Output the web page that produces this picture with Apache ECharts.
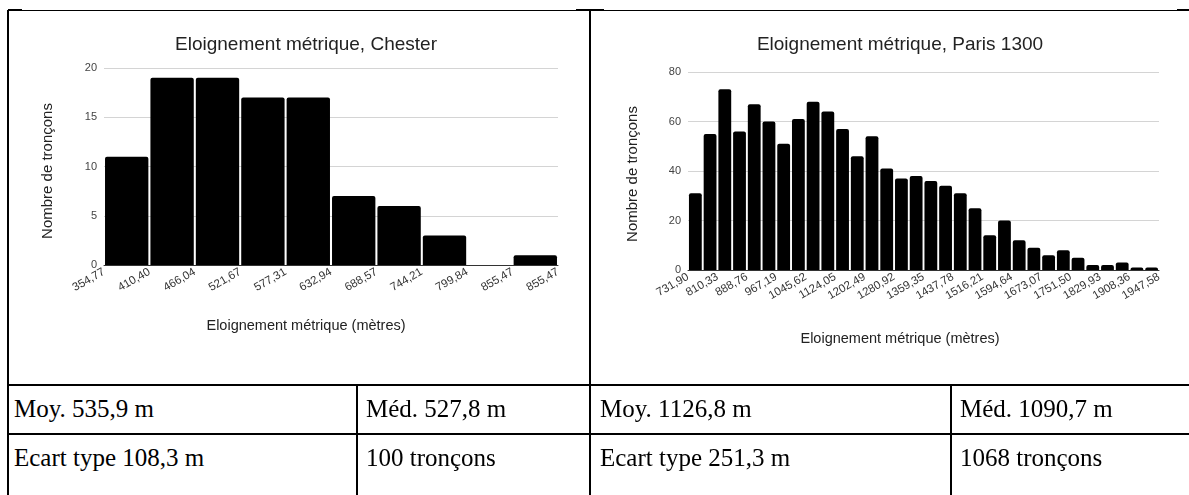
<!DOCTYPE html>
<html>
<head>
<meta charset="utf-8">
<script src="https://cdn.jsdelivr.net/npm/echarts@6/dist/echarts.min.js"></script>
<style>
  html, body { margin: 0; padding: 0; background: #fff; }
  #page { position: relative; width: 1189px; height: 495px; overflow: hidden; background: #fff; }
  #chart { position: absolute; left: 0; top: 0; width: 1189px; height: 385px; }
  .ln { position: absolute; background: #000; }
  .cell { position: absolute; font-family: "Liberation Serif", serif; font-size: 25px; color: #000; white-space: nowrap; line-height: 1; }
</style>
</head>
<body>
<div id="page">
  <div id="chart"></div>
  <!-- table borders -->
  <div class="ln" style="left:8px; top:10px; width:1181px; height:1px;"></div>
  <div class="ln" style="left:8px; top:9px; width:14px; height:2px;"></div>
  <div class="ln" style="left:576px; top:9px; width:28px; height:2px;"></div>
  <div class="ln" style="left:1177px; top:9px; width:12px; height:2px;"></div>
  <div class="ln" style="left:7px; top:10px; width:2px; height:485px;"></div>
  <div class="ln" style="left:589px; top:10px; width:2px; height:485px;"></div>
  <div class="ln" style="left:356px; top:385px; width:2px; height:110px;"></div>
  <div class="ln" style="left:950px; top:385px; width:2px; height:110px;"></div>
  <div class="ln" style="left:8px; top:384px; width:1181px; height:2px;"></div>
  <div class="ln" style="left:8px; top:433px; width:1181px; height:2px;"></div>
  <div id="cells"></div>
</div>
<script>
// ---- data ----
const chesterTitle = 'Eloignement métrique, Chester';
const chesterLabels = ['354,77','410,40','466,04','521,67','577,31','632,94','688,57','744,21','799,84','855,47','855,47'];
const chesterCounts = [11, 19, 19, 17, 17, 7, 6, 3, 0, 1];

const parisTitle = 'Eloignement métrique, Paris 1300';
const parisLabels = ['731,90','810,33','888,76','967,19','1045,62','1124,05','1202,49','1280,92','1359,35','1437,78','1516,21','1594,64','1673,07','1751,50','1829,93','1908,36','1947,58'];
const parisCounts = [31, 55, 73, 56, 67, 60, 51, 61, 68, 64, 57, 46, 54, 41, 37, 38, 36, 34, 31, 25, 14, 20, 12, 9, 6, 8, 5, 2, 2, 3, 1, 1];

const yName = 'Nombre de tronçons';
const xName = 'Eloignement métrique (mètres)';

const statsRow1 = ['Moy. 535,9 m', 'Méd. 527,8 m', 'Moy. 1126,8 m', 'Méd. 1090,7 m'];
const statsRow2 = ['Ecart type 108,3 m', '100 tronçons', 'Ecart type 251,3 m', '1068 tronçons'];

// ---- table text ----
const colX = [14, 366, 600, 960];
const rowY = [396, 445];
const cellsEl = document.getElementById('cells');
[statsRow1, statsRow2].forEach((row, r) => {
  row.forEach((t, c) => {
    const d = document.createElement('div');
    d.className = 'cell';
    d.style.left = colX[c] + 'px';
    d.style.top = rowY[r] + 'px';
    d.textContent = t;
    cellsEl.appendChild(d);
  });
});

// ---- chart ----
const FONT = 'Liberation Sans, Arial, sans-serif';
const chart = echarts.init(document.getElementById('chart'), null, { renderer: 'canvas' });

function panel(idx, g, counts, labels, yMax, yInt, labelStep, gapPct) {
  const n = counts.length;
  return {
    grid: { left: g.left, top: g.top, width: g.width, height: g.height, containLabel: false },
    xAxes: [
      {
        type: 'category', gridIndex: idx, data: counts.map((_, i) => i),
        axisLine: { show: true, lineStyle: { color: '#333', width: 1 } },
        axisTick: { show: false }, axisLabel: { show: false }, splitLine: { show: false }
      },
      {
        type: 'value', gridIndex: idx, min: 0, max: n, interval: labelStep, position: 'bottom',
        axisLine: { show: false }, axisTick: { show: false }, splitLine: { show: false },
        axisLabel: {
          show: true, rotate: 30, margin: 6, color: '#333', fontSize: 11.5, fontFamily: FONT,
          showMinLabel: true, showMaxLabel: true, hideOverlap: false,
          formatter: v => labels[Math.round(v / labelStep)] ?? ''
        }
      }
    ],
    yAxis: {
      type: 'value', gridIndex: idx, min: 0, max: yMax, interval: yInt,
      axisLine: { show: false }, axisTick: { show: false },
      splitLine: { show: true, lineStyle: { color: '#d4d4d4', width: 1 } },
      axisLabel: { color: '#444', fontSize: 11, fontFamily: FONT, margin: 7 }
    },
    series: {
      type: 'bar', xAxisIndex: idx * 2, yAxisIndex: idx, data: counts,
      barCategoryGap: gapPct, silent: true,
      itemStyle: { color: '#000', borderRadius: [2, 2, 0, 0] }
    }
  };
}

const p1 = panel(0, { left: 104, top: 68, width: 454, height: 197 }, chesterCounts, chesterLabels, 20, 5, 1, '4.5%');
const p2 = panel(1, { left: 688, top: 72, width: 471, height: 198 }, parisCounts, parisLabels, 80, 20, 2, '13%');

const option = {
  animation: false,
  title: [
    { text: chesterTitle, left: 301, top: 30, textAlign: 'center',
      textStyle: { fontFamily: FONT, fontSize: 19, fontWeight: 'normal', color: '#222' } },
    { text: parisTitle, left: 895, top: 30, textAlign: 'center',
      textStyle: { fontFamily: FONT, fontSize: 19, fontWeight: 'normal', color: '#222' } }
  ],
  grid: [p1.grid, p2.grid],
  xAxis: [...p1.xAxes, ...p2.xAxes],
  yAxis: [p1.yAxis, p2.yAxis],
  series: [p1.series, p2.series],
  graphic: [
    { type: 'text', x: 48, y: 171, rotation: Math.PI / 2,
      style: { text: yName, fill: '#222', fontFamily: FONT, fontSize: 15, align: 'center', verticalAlign: 'middle' } },
    { type: 'text', x: 633, y: 174, rotation: Math.PI / 2,
      style: { text: yName, fill: '#222', fontFamily: FONT, fontSize: 15, align: 'center', verticalAlign: 'middle' } },
    { type: 'text', x: 306, y: 326,
      style: { text: xName, fill: '#222', fontFamily: FONT, fontSize: 14.5, align: 'center', verticalAlign: 'middle' } },
    { type: 'text', x: 900, y: 339,
      style: { text: xName, fill: '#222', fontFamily: FONT, fontSize: 14.5, align: 'center', verticalAlign: 'middle' } }
  ]
};
chart.setOption(option);
</script>
</body>
</html>
